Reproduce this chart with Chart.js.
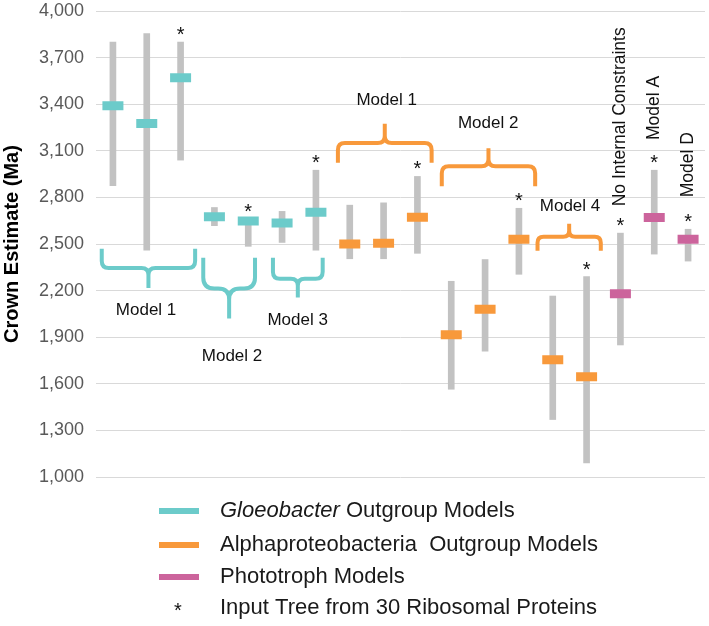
<!DOCTYPE html>
<html>
<head>
<meta charset="utf-8">
<script src="https://cdn.jsdelivr.net/npm/chart.js@4/dist/chart.umd.min.js"></script>
<style>
  html, body { margin: 0; padding: 0; background: #fff; overflow: hidden; }
  #wrap { width: 709px; height: 626px; position: relative; }
</style>
</head>
<body>
<div id="wrap"><canvas id="crownChart"></canvas></div>
<script>
/* -------- DATA -------- */
const categories = [
  "Gloeobacter M1 a", "Gloeobacter M1 b", "Gloeobacter M1 c",
  "Gloeobacter M2 a", "Gloeobacter M2 b",
  "Gloeobacter M3 a", "Gloeobacter M3 b",
  "Alpha M1 a", "Alpha M1 b", "Alpha M1 c",
  "Alpha M2 a", "Alpha M2 b", "Alpha M2 c",
  "Alpha M4 a", "Alpha M4 b",
  "No Internal Constraints", "Model A", "Model D"
];
const outgroup = [
  "glo", "glo", "glo", "glo", "glo", "glo", "glo",
  "alpha", "alpha", "alpha", "alpha", "alpha", "alpha", "alpha", "alpha",
  "photo", "photo", "photo"
];
const medianAge = [3390, 3275, 3570, 2675, 2648, 2635, 2705, 2500, 2505, 2673, 1915, 2080, 2530, 1755, 1645, 2180, 2670, 2530];
const lowerAge  = [2875, 2460, 3040, 2618, 2485, 2510, 2460, 2405, 2405, 2440, 1565, 1810, 2305, 1370, 1090, 1850, 2435, 2390];
const upperAge  = [3800, 3855, 3800, 2735, 2660, 2710, 2975, 2750, 2765, 2935, 2260, 2400, 2730, 2165, 2290, 2570, 2975, 2595];
const ribosomalTree = [0, 0, 1, 0, 1, 0, 1, 0, 0, 1, 0, 0, 1, 0, 1, 1, 1, 1];
const yTicks = [1000, 1300, 1600, 1900, 2200, 2500, 2800, 3100, 3400, 3700, 4000];

const legendTexts = [
  ["Gloeobacter", " Outgroup Models"],
  ["", "Alphaproteobacteria  Outgroup Models"],
  ["", "Phototroph Models"],
  ["", "Input Tree from 30 Ribosomal Proteins"]
];

/* -------- STYLE -------- */
const colorOf = { glo: "#6ccbca", alpha: "#f8993b", photo: "#cc649c" };
const FONT = "'Liberation Sans', Arial, sans-serif";

// brace annotations: x in category units, y in Ma
const braces = [
  { c: "glo",   x0: -0.33, x1: 2.43,  end: 2470, bar: 2346, tip: 2217, r: 7,  label: "Model 1", lx: 0.98,  ly: 2072 },
  { c: "glo",   x0: 2.67,  x1: 4.2,   end: 2412, bar: 2213, tip: 2020, r: 11, label: "Model 2", lx: 3.52,  ly: 1776 },
  { c: "glo",   x0: 4.73,  x1: 6.2,   end: 2412, bar: 2277, tip: 2155, r: 7,  label: "Model 3", lx: 5.46,  ly: 2007 },
  { c: "alpha", x0: 6.65,  x1: 9.42,  end: 3023, bar: 3150, tip: 3274, r: 7,  label: "Model 1", lx: 8.09,  ly: 3428 },
  { c: "alpha", x0: 9.72,  x1: 12.48, end: 2871, bar: 3000, tip: 3117, r: 7,  label: "Model 2", lx: 11.09, ly: 3278 },
  { c: "alpha", x0: 12.55, x1: 14.42, end: 2457, bar: 2547, tip: 2631, r: 6,  label: "Model 4", lx: 13.51, ly: 2742 }
];
const verticalLabels = [
  { i: 15, text: "No Internal Constraints", y: 3319 },
  { i: 16, text: "Model A", y: 3376 },
  { i: 17, text: "Model D", y: 3010 }
];

function xPix(scale, v) {
  // fractional category position
  const a = scale.getPixelForValue(0), b = scale.getPixelForValue(1);
  return a + (b - a) * v;
}

function drawBrace(ctx, xL, xR, yEnd, yBar, yTip, r) {
  const xC = (xL + xR) / 2;
  const s = Math.sign(yTip - yEnd);
  ctx.beginPath();
  ctx.moveTo(xL, yEnd);
  ctx.lineTo(xL, yBar - s * r);
  ctx.quadraticCurveTo(xL, yBar, xL + r, yBar);
  ctx.lineTo(xC - r, yBar);
  ctx.quadraticCurveTo(xC, yBar, xC, yBar + s * r);
  ctx.lineTo(xC, yTip);
  ctx.moveTo(xR, yEnd);
  ctx.lineTo(xR, yBar - s * r);
  ctx.quadraticCurveTo(xR, yBar, xR - r, yBar);
  ctx.lineTo(xC + r, yBar);
  ctx.quadraticCurveTo(xC, yBar, xC, yBar + s * r);
  ctx.stroke();
}

const annotations = {
  id: "annotations",
  afterDraw(chart) {
    const { ctx } = chart;
    const xs = chart.scales.x, ys = chart.scales.y;
    ctx.save();

    /* braces + group labels */
    ctx.lineWidth = 4;
    ctx.lineCap = "butt";
    braces.forEach(b => {
      ctx.strokeStyle = colorOf[b.c];
      drawBrace(ctx, xPix(xs, b.x0), xPix(xs, b.x1),
        ys.getPixelForValue(b.end), ys.getPixelForValue(b.bar), ys.getPixelForValue(b.tip), b.r);
      ctx.fillStyle = "#111";
      ctx.font = "17px " + FONT;
      ctx.textAlign = "center";
      ctx.textBaseline = "middle";
      ctx.fillText(b.label, xPix(xs, b.lx), ys.getPixelForValue(b.ly));
    });

    /* stars for the 30 ribosomal protein tree */
    ctx.fillStyle = "#111";
    ctx.font = "20px " + FONT;
    ctx.textAlign = "center";
    ctx.textBaseline = "alphabetic";
    ribosomalTree.forEach((f, i) => {
      if (!f) return;
      ctx.fillText("*", xs.getPixelForValue(i), ys.getPixelForValue(upperAge[i]) - 1);
    });

    /* rotated labels */
    ctx.font = "17.5px " + FONT;
    ctx.textBaseline = "middle";
    verticalLabels.forEach(v => {
      ctx.save();
      ctx.translate(xs.getPixelForValue(v.i), ys.getPixelForValue(v.y));
      ctx.rotate(-Math.PI / 2);
      ctx.fillText(v.text, 0, 0);
      ctx.restore();
    });

    /* legend */
    const lx = 159, tx = 220, rows = [511, 545, 577, 608];
    const swatch = [colorOf.glo, colorOf.alpha, colorOf.photo, null];
    ctx.textAlign = "left";
    legendTexts.forEach((t, k) => {
      const y = rows[k];
      if (swatch[k]) {
        ctx.fillStyle = swatch[k];
        ctx.fillRect(lx, y - 3, 40, 6);
      } else {
        ctx.fillStyle = "#111";
        ctx.font = "20px " + FONT;
        ctx.textAlign = "center";
        ctx.textBaseline = "alphabetic";
        ctx.fillText("*", lx + 19, y + 9);
        ctx.textAlign = "left";
      }
      ctx.fillStyle = "#1a1a1a";
      ctx.textBaseline = "middle";
      let x = tx;
      if (t[0]) {
        ctx.font = "italic 22px " + FONT;
        ctx.fillText(t[0], x, y);
        x += ctx.measureText(t[0]).width;
      }
      ctx.font = "22px " + FONT;
      ctx.fillText(t[1], x, y);
    });

    ctx.restore();
  }
};

const ctx = document.getElementById("crownChart");

new Chart(ctx, {
  type: "bar",
  data: {
    labels: categories,
    datasets: [
      {
        type: "line",
        label: "Median",
        data: medianAge,
        showLine: false,
        pointStyle: "line",
        pointRadius: 10.5,
        pointHoverRadius: 10.5,
        pointBorderWidth: 9,
        pointBorderColor: outgroup.map(g => colorOf[g]),
        pointBackgroundColor: outgroup.map(g => colorOf[g]),
        order: 0
      },
      {
        type: "bar",
        label: "Range",
        data: lowerAge.map((lo, i) => [lo, upperAge[i]]),
        backgroundColor: "#c2c2c2",
        barThickness: 6,
        borderSkipped: false,
        order: 1
      }
    ]
  },
  options: {
    responsive: true,
    maintainAspectRatio: false,
    animation: false,
    events: [],
    layout: { autoPadding: false, padding: { top: 11, right: 4, bottom: 149, left: 0 } },
    scales: {
      x: { display: false, offset: true },
      y: {
        min: 1000,
        max: 4000,
        afterBuildTicks: s => { s.ticks = yTicks.map(v => ({ value: v })); },
        afterFit: s => { s.width = 96; s.paddingTop = 0; s.paddingBottom = 0; },
        ticks: {
          color: "#595959",
          padding: 12,
          font: { family: FONT, size: 18 },
          callback: v => v.toLocaleString("en-US")
        },
        grid: { color: "#d9d9d9", lineWidth: 1, drawTicks: false },
        border: { display: false },
        title: {
          display: true,
          text: "Crown Estimate (Ma)",
          color: "#000",
          font: { family: FONT, size: 20, weight: "bold" },
          padding: { top: 0, bottom: 0 }
        }
      }
    },
    plugins: {
      legend: { display: false },
      tooltip: { enabled: false }
    }
  },
  plugins: [annotations]
});
</script>
</body>
</html>
